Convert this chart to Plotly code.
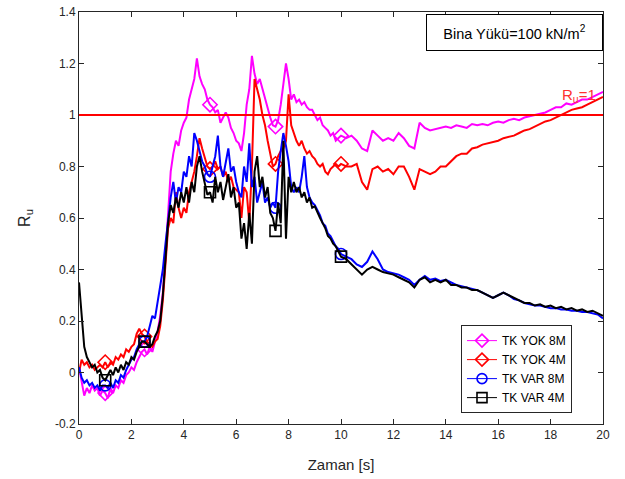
import numpy as np
import plotly.graph_objects as go

# time axis: 0-10 s every 0.1 s, 10.2-20 s every 0.2 s
T = np.round(np.concatenate([np.arange(0, 10.0001, 0.1), np.arange(10.2, 20.0001, 0.2)]), 2)

TK_YOK_8M = [
    0.02, -0.04, -0.09, -0.06, -0.08, -0.05, -0.07, -0.06, -0.09, -0.07,
    -0.08, -0.10, -0.06, -0.08, -0.05, -0.06, -0.03, -0.04, -0.01, 0.00,
    0.02, 0.01, 0.04, 0.06, 0.08, 0.09, 0.07, 0.10, 0.08, 0.12,
    0.16, 0.22, 0.31, 0.45, 0.63, 0.78, 0.85, 0.90, 0.88, 0.94,
    0.97, 0.99, 1.06, 1.10, 1.14, 1.22, 1.15, 1.12, 1.10, 1.06,
    1.04, 1.03, 1.01, 1.02, 0.97, 0.99, 1.01, 0.99, 0.95, 0.93,
    0.90, 0.89, 0.86, 0.93, 1.04, 1.10, 1.23, 1.16, 1.12, 1.14,
    1.10, 1.06, 1.02, 0.99, 0.96, 0.955, 0.98, 1.04, 1.12, 1.20,
    1.14, 1.06, 1.08, 1.05, 1.06, 1.04, 1.05, 1.03, 1.02, 1.02,
    1.00, 0.98, 0.99, 0.96, 0.95, 0.94, 0.92, 0.93, 0.90, 0.91,
    0.92,
    0.91, 0.92, 0.90, 0.87, 0.86, 0.94, 0.92, 0.90, 0.91, 0.90,
    0.93, 0.91, 0.88, 0.87, 0.97, 0.95, 0.94, 0.945, 0.95, 0.955,
    0.95, 0.96, 0.955, 0.95, 0.965, 0.96, 0.965, 0.96, 0.97, 0.975,
    0.97, 0.98, 0.985, 0.98, 0.99, 0.995, 1.00, 1.005, 1.01, 1.02,
    1.03, 1.03, 1.045, 1.04, 1.05, 1.06, 1.06, 1.07, 1.08, 1.09,
]

TK_YOK_4M = [
    0.00, 0.05, 0.03, 0.04, 0.02, 0.03, 0.01, 0.02, 0.03, 0.02,
    0.04, 0.02, 0.04, 0.03, 0.06, 0.05, 0.07, 0.06, 0.09, 0.08,
    0.10, 0.11, 0.15, 0.17, 0.15, 0.14, 0.12, 0.11, 0.10, 0.12,
    0.13, 0.18, 0.28, 0.42, 0.56, 0.60, 0.58, 0.70, 0.64, 0.60,
    0.64, 0.62, 0.70, 0.74, 0.78, 0.84, 0.91, 0.87, 0.83, 0.80,
    0.79, 0.80, 0.82, 0.79, 0.80, 0.76, 0.78, 0.74, 0.76, 0.72,
    0.71, 0.70, 0.60, 0.72, 0.70, 0.58, 0.80, 1.14, 1.10, 1.06,
    1.00, 0.96, 0.90, 0.85, 0.80, 0.81, 0.84, 0.86, 0.87, 0.90,
    1.08, 0.96, 0.93, 0.90, 0.88, 0.90, 0.87, 0.85, 0.86, 0.84,
    0.83, 0.81, 0.80, 0.81, 0.78, 0.77, 0.79, 0.80, 0.81, 0.80,
    0.81,
    0.80, 0.80, 0.81, 0.74, 0.71, 0.79, 0.80, 0.78, 0.79, 0.77,
    0.80, 0.80, 0.76, 0.71, 0.79, 0.78, 0.77, 0.78, 0.80, 0.80,
    0.82, 0.84, 0.85, 0.85, 0.87, 0.875, 0.885, 0.89, 0.895, 0.90,
    0.91, 0.915, 0.92, 0.93, 0.94, 0.945, 0.955, 0.965, 0.975, 0.98,
    0.99, 1.00, 1.01, 1.02, 1.025, 1.03, 1.04, 1.05, 1.06, 1.07,
]

TK_VAR_8M = [
    0.02, -0.02, -0.04, -0.03, -0.05, -0.04, -0.06, -0.05, -0.07, -0.05,
    -0.05, -0.06, -0.04, -0.06, -0.03, -0.04, -0.01, -0.02, 0.01, 0.03,
    0.05, 0.06, 0.09, 0.11, 0.12, 0.12, 0.14, 0.18, 0.22, 0.21,
    0.28, 0.33, 0.40, 0.50, 0.60, 0.68, 0.74, 0.66, 0.72, 0.70,
    0.78, 0.76, 0.84, 0.80, 0.93, 0.90, 0.86, 0.82, 0.80, 0.77,
    0.76, 0.80, 0.84, 0.92, 0.80, 0.76, 0.82, 0.87, 0.78, 0.80,
    0.74, 0.70, 0.68, 0.80, 0.74, 0.89, 0.72, 0.76, 0.66, 0.70,
    0.74, 0.66, 0.68, 0.64, 0.66, 0.64, 0.78, 0.86, 0.93, 0.88,
    0.82, 0.72, 0.70, 0.72, 0.70, 0.76, 0.84, 0.72, 0.68, 0.66,
    0.65, 0.63, 0.61, 0.58, 0.57, 0.54, 0.53, 0.51, 0.49, 0.48,
    0.46,
    0.45, 0.44, 0.42, 0.41, 0.43, 0.47, 0.44, 0.40, 0.39, 0.385,
    0.38, 0.37, 0.36, 0.34, 0.36, 0.375, 0.36, 0.365, 0.355, 0.36,
    0.35, 0.34, 0.335, 0.33, 0.325, 0.32, 0.31, 0.30, 0.29, 0.30,
    0.31, 0.30, 0.285, 0.28, 0.27, 0.265, 0.26, 0.26, 0.255, 0.25,
    0.25, 0.245, 0.245, 0.24, 0.24, 0.235, 0.235, 0.23, 0.225, 0.21,
]

TK_VAR_4M = [
    0.35, 0.22, 0.10, 0.06, 0.04, 0.02, 0.03, 0.00, 0.01, -0.02,
    -0.03, -0.01, 0.01, -0.01, 0.02, 0.00, 0.03, 0.01, 0.04, 0.03,
    0.06, 0.05, 0.08, 0.10, 0.12, 0.12, 0.11, 0.10, 0.11, 0.14,
    0.16, 0.20, 0.30, 0.44, 0.58, 0.65, 0.62, 0.68, 0.64, 0.70,
    0.66, 0.72, 0.66, 0.74, 0.70, 0.80, 0.84, 0.78, 0.74, 0.69,
    0.70, 0.66, 0.76, 0.70, 0.74, 0.67, 0.72, 0.77, 0.68, 0.72,
    0.64, 0.66, 0.52, 0.58, 0.48, 0.62, 0.50, 0.78, 0.84, 0.72,
    0.76, 0.68, 0.72, 0.62, 0.60, 0.55, 0.66, 0.58, 0.90, 0.52,
    0.76, 0.70, 0.74, 0.70, 0.72, 0.68, 0.70, 0.66, 0.68, 0.64,
    0.645, 0.62, 0.60, 0.58, 0.56, 0.53, 0.52, 0.50, 0.49, 0.47,
    0.45,
    0.44, 0.42, 0.40, 0.38, 0.40, 0.41, 0.40, 0.39, 0.385, 0.38,
    0.37, 0.36, 0.35, 0.33, 0.36, 0.37, 0.35, 0.36, 0.35, 0.36,
    0.34, 0.34, 0.33, 0.33, 0.32, 0.32, 0.31, 0.30, 0.29, 0.30,
    0.31, 0.30, 0.29, 0.28, 0.27, 0.27, 0.26, 0.265, 0.255, 0.26,
    0.25, 0.255, 0.245, 0.25, 0.24, 0.245, 0.235, 0.24, 0.23, 0.22,
]

SERIES_NAMES = ["TK YOK 8M", "TK YOK 4M", "TK VAR 8M", "TK VAR 4M"]
SERIES_VALUES = [TK_YOK_8M, TK_YOK_4M, TK_VAR_8M, TK_VAR_4M]
SERIES_COLORS = ["#ff00ff", "#ff0000", "#0000ff", "#000000"]
SERIES_SYMBOLS = ["diamond-open", "diamond-open", "circle-open", "square-open"]
MARKER_TIMES = [1.0, 2.5, 5.0, 7.5, 10.0]
REF_LEVEL = 1.0

X_TICKS = list(range(0, 21, 2))
Y_TICKS = [-0.2, 0, 0.2, 0.4, 0.6, 0.8, 1.0, 1.2, 1.4]
Y_TICK_LABELS = ["-0.2", "0", "0.2", "0.4", "0.6", "0.8", "1", "1.2", "1.4"]

FONT = "Liberation Sans, Arial, Helvetica, sans-serif"
AX = "#262626"

marker_idx = [int(np.argmin(np.abs(T - mt))) for mt in MARKER_TIMES]

fig = go.Figure()
for name, vals, col, sym in zip(SERIES_NAMES, SERIES_VALUES, SERIES_COLORS, SERIES_SYMBOLS):
    vals = np.array(vals, dtype=float)
    fig.add_trace(go.Scatter(x=T, y=vals, mode="lines", line=dict(color=col, width=2),
                             showlegend=False, hoverinfo="skip"))
    fig.add_trace(go.Scatter(x=T[marker_idx], y=vals[marker_idx], mode="markers",
                             marker=dict(symbol=sym, size=11, color=col, line=dict(color=col, width=1.6)),
                             showlegend=False, hoverinfo="skip"))
for name, col, sym in zip(SERIES_NAMES, SERIES_COLORS, SERIES_SYMBOLS):
    fig.add_trace(go.Scatter(x=[None], y=[None], mode="lines+markers", name=name,
                             line=dict(color=col, width=1),
                             marker=dict(symbol=sym, size=10, color=col, line=dict(color=col, width=1.6))))

fig.add_hline(y=REF_LEVEL, line=dict(color="#ff0000", width=2))

fig.add_annotation(x=19.8, y=REF_LEVEL, xref="x", yref="y", xanchor="right", yanchor="bottom",
                   yshift=8, text="R<sub>u</sub>=1", showarrow=False,
                   font=dict(family=FONT, size=15, color="#ff3030"))
fig.add_annotation(x=0.831, y=0.950, xref="paper", yref="paper", xanchor="center", yanchor="middle",
                   text="Bina Yükü=100 kN/m<sup>2</sup>", showarrow=False,
                   bordercolor="#000000", borderwidth=1, borderpad=5, bgcolor="white",
                   width=165, height=25, font=dict(family=FONT, size=14.5, color="#000000"))

fig.update_layout(
    width=625, height=479,
    margin=dict(l=79, r=22, t=12, b=55, autoexpand=False),
    paper_bgcolor="white", plot_bgcolor="white",
    font=dict(family=FONT, size=12, color=AX),
    legend=dict(x=0.729, y=0.240, xanchor="left", yanchor="top",
                bgcolor="white", bordercolor=AX, borderwidth=1,
                font=dict(family=FONT, size=12, color="#000000"),
                tracegroupgap=0, itemwidth=30),
)
fig.update_xaxes(range=[0, 20], tickvals=X_TICKS, ticks="inside", ticklen=5, tickcolor=AX,
                 showline=True, linecolor=AX, linewidth=1, mirror="ticks", showgrid=False, zeroline=False,
                 automargin=False,
                 title=dict(text="Zaman [s]", font=dict(family=FONT, size=15, color=AX), standoff=18),
                 tickfont=dict(family=FONT, size=12, color=AX))
fig.update_yaxes(range=[-0.2, 1.4], tickvals=Y_TICKS, ticktext=Y_TICK_LABELS, ticks="inside", ticklen=5,
                 tickcolor=AX, showline=True, linecolor=AX, linewidth=1, mirror="ticks", showgrid=False,
                 zeroline=False, automargin=False,
                 title=dict(text="R<sub>u</sub>", font=dict(family=FONT, size=16, color=AX), standoff=20),
                 tickfont=dict(family=FONT, size=12, color=AX))

fig.write_html("out.html")
